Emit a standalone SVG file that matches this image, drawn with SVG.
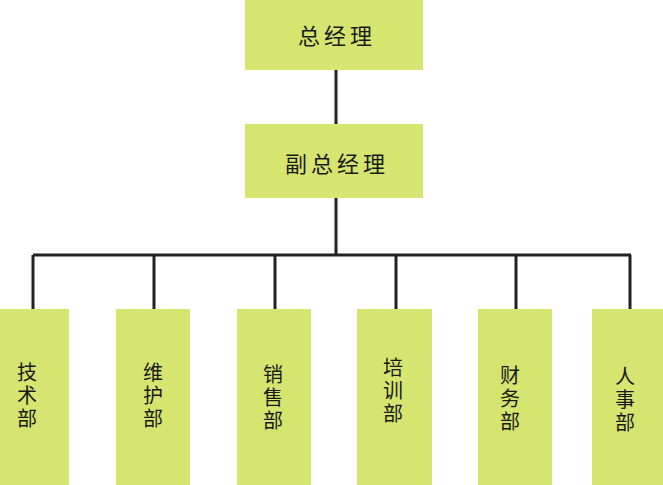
<svg xmlns="http://www.w3.org/2000/svg" width="663" height="485" viewBox="0 0 663 485">
<style>
.box{fill:#d5e56f;}
.t{font-family:"Noto Sans CJK SC","Noto Sans",sans-serif;fill:#1a1a1a;text-anchor:middle;}
.big{font-size:22px;letter-spacing:4px;dominant-baseline:central;}
.v{font-size:20px;letter-spacing:3px;writing-mode:vertical-rl;}
.ln{stroke:#222;stroke-width:3;fill:none;}
</style>
<rect width="663" height="485" fill="#fff"/>
<g id="connectors">
<path class="ln" d="M336 70V124M336 198V255M33 255H631M33 255V309M154 255V309M275 255V309M396 255V309M516 255V309M630 255V309"/>
</g>
<g id="n_gm"><rect class="box" x="245" y="0" width="178" height="70"/><text class="t big" x="337" y="34">总经理</text></g>
<g id="n_vgm"><rect class="box" x="245" y="124" width="178" height="74"/><text class="t big" x="337" y="162">副总经理</text></g>
<g id="n_tech"><rect class="box" x="0" y="309" width="69" height="176"/><text class="t v" x="27" y="397">技术部</text></g>
<g id="n_maint"><rect class="box" x="116" y="309" width="74" height="176"/><text class="t v" x="153" y="397">维护部</text></g>
<g id="n_sales"><rect class="box" x="237" y="309" width="74" height="176"/><text class="t v" x="273" y="399">销售部</text></g>
<g id="n_train"><rect class="box" x="357" y="309" width="75" height="176"/><text class="t v" x="393" y="392">培训部</text></g>
<g id="n_fin"><rect class="box" x="478" y="309" width="74" height="176"/><text class="t v" x="510" y="400">财务部</text></g>
<g id="n_hr"><rect class="box" x="592" y="309" width="71" height="176"/><text class="t v" x="625" y="401">人事部</text></g>
</svg>
